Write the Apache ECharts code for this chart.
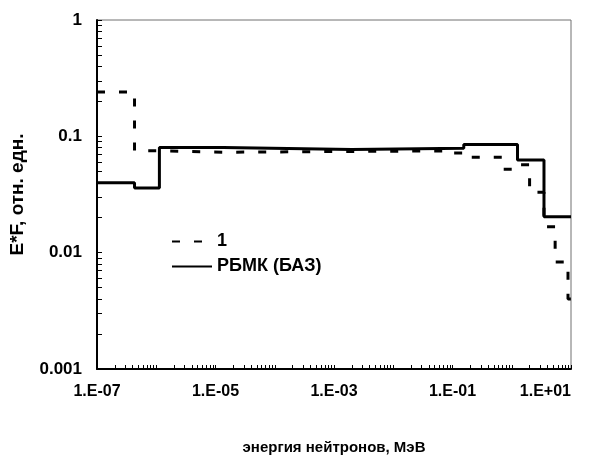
<!DOCTYPE html>
<html>
<head>
<meta charset="utf-8">
<script src="https://cdn.jsdelivr.net/npm/echarts@6/dist/echarts.min.js"></script>
<style>
html,body{margin:0;padding:0;background:#fff;}
#chart{width:602px;height:462px;}
</style>
</head>
<body>
<div id="chart"></div>
<script>
// ---- data ----
const dashName = '1';
const dashEdges  = [1e-7, 4.3e-7, 1.13e-6, 1.35e-5, 0.08, 0.155, 0.73, 1.23, 2.0, 3.5, 5.4, 8.9, 10];
const dashValues = [0.24, 0.075, 0.073, 0.075, 0.072, 0.066, 0.052, 0.057, 0.033, 0.0167, 0.0083, 0.004];

const solidName = 'РБМК (БАЗ)';
const solidEdges  = [1e-7, 4.3e-7, 1.13e-6, 1.35e-5, 2e-3, 0.155, 1.25, 3.5, 10];
const solidValues = [0.040, 0.036, 0.080, 0.077, 0.079, 0.085, 0.0625, 0.0204];

const xLabelValues = [1e-7, 1e-5, 1e-3, 1e-1, 10];
const xLabelTexts  = ['1.E-07', '1.E-05', '1.E-03', '1.E-01', '1.E+01'];
const yLabelValues = [0.001, 0.01, 0.1, 1];
const yLabelTexts  = ['0.001', '0.01', '0.1', '1'];

const xDecades = [1e-7, 1e-6, 1e-5, 1e-4, 1e-3, 1e-2, 1e-1, 1];
const yDecades = [0.001, 0.01, 0.1];
const minorMult = [1, 2, 3, 4, 5, 6, 7, 8, 9];

// ---- build ----
function stepPoints(edges, values) {
  return edges.map((e, i) => [e, values[Math.min(i, values.length - 1)]]);
}
function tickList(decades, last) {
  const out = [];
  decades.forEach(d => minorMult.forEach(m => out.push(+(d * m).toPrecision(6))));
  out.push(last);
  return out;
}
function labelFor(values, texts) {
  return function (v) {
    for (let i = 0; i < values.length; i++) {
      if (Math.abs(Math.log10(v) - Math.log10(values[i])) < 1e-6) return texts[i];
    }
    return '';
  };
}

const FONT = 'Liberation Sans, Arial, sans-serif';
const chart = echarts.init(document.getElementById('chart'), null, {renderer: 'canvas'});
chart.setOption({
  animation: false,
  backgroundColor: '#fff',
  grid: {left: 95, right: 31, top: 20, bottom: 93, show: true, borderColor: '#707070', borderWidth: 1},
  legend: {
    orient: 'vertical', left: 166, top: 226,
    itemWidth: 40, itemHeight: 14, itemGap: 4,
    itemStyle: {opacity: 0},
    textStyle: {fontFamily: FONT, fontWeight: 'bold', fontSize: 18, color: '#000', lineHeight: 21},
    data: [dashName, solidName]
  },
  xAxis: {
    type: 'log', logBase: 10, min: 1e-7, max: 10,
    name: 'энергия нейтронов, МэВ', nameLocation: 'middle', nameGap: 71,
    nameTextStyle: {fontFamily: FONT, fontWeight: 'bold', fontSize: 15, color: '#000'},
    axisLine: {show: true, onZero: false, lineStyle: {color: '#000', width: 2}},
    axisTick: {show: true, inside: true, length: 4, lineStyle: {color: '#000', width: 1},
      customValues: tickList(xDecades, 10)},
    axisLabel: {customValues: xLabelValues, formatter: labelFor(xLabelValues, xLabelTexts),
      fontFamily: FONT, fontWeight: 'bold', fontSize: 16, color: '#000', margin: 15,
      alignMaxLabel: 'right'},
    splitLine: {show: false}
  },
  yAxis: {
    type: 'log', logBase: 10, min: 0.001, max: 1,
    name: 'E*F, отн. едн.', nameLocation: 'middle', nameGap: 70,
    nameTextStyle: {fontFamily: FONT, fontWeight: 'bold', fontSize: 19, color: '#000'},
    axisLine: {show: true, onZero: false, lineStyle: {color: '#000', width: 2}},
    axisTick: {show: true, inside: true, length: 5, lineStyle: {color: '#000', width: 1},
      customValues: tickList(yDecades, 1)},
    axisLabel: {customValues: yLabelValues, formatter: labelFor(yLabelValues, yLabelTexts),
      fontFamily: FONT, fontWeight: 'bold', fontSize: 17, color: '#000', margin: 15},
    splitLine: {show: false}
  },
  series: [
    {
      name: dashName, type: 'line', step: 'end', symbol: 'none', showSymbol: false,
      data: stepPoints(dashEdges, dashValues),
      lineStyle: {color: '#000', width: 3, type: [8, 14]},
      itemStyle: {color: '#000'}, z: 3
    },
    {
      name: solidName, type: 'line', step: 'end', symbol: 'none', showSymbol: false,
      data: stepPoints(solidEdges, solidValues),
      lineStyle: {color: '#000', width: 3, type: 'solid'},
      itemStyle: {color: '#000'}, z: 2
    }
  ]
});
</script>
</body>
</html>
